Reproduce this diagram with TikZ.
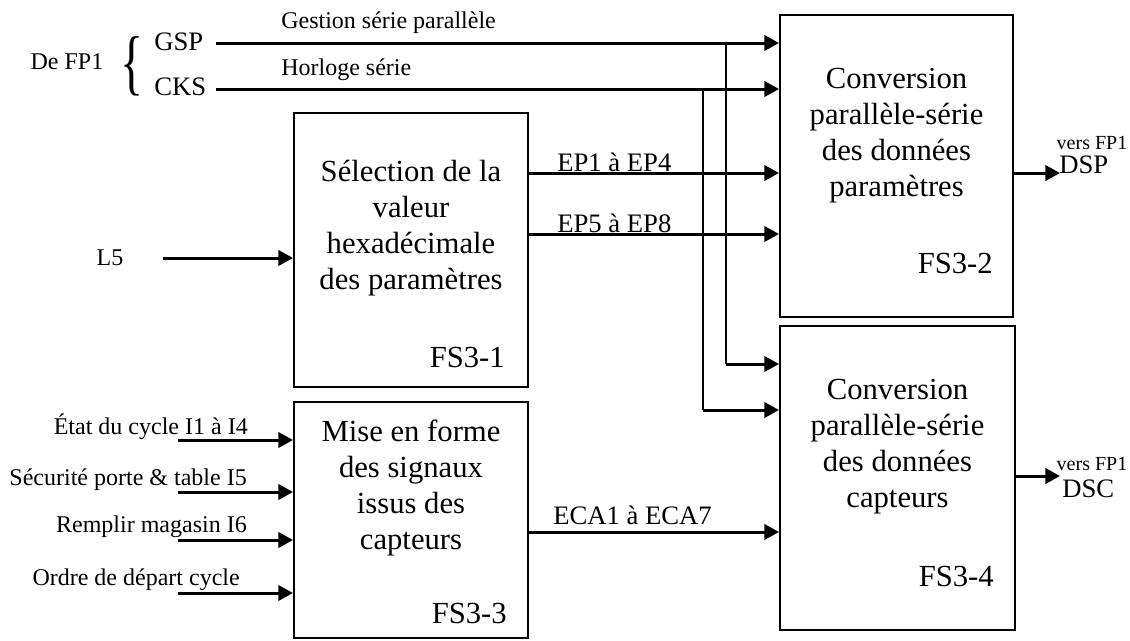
\documentclass[tikz,border=0pt]{standalone}
\usepackage{fontspec}
\setmainfont{Liberation Serif}
\usetikzlibrary{arrows.meta}

\begin{document}
\begin{tikzpicture}[x=0.75pt,y=-0.75pt,
  blk/.style={draw, line width=1.5pt, inner sep=0pt},
  blktext/.style={font=\fontsize{23}{27}\selectfont, align=center, inner sep=0pt},
  tag/.style={font=\fontsize{23}{27}\selectfont, inner sep=0pt},
  small/.style={font=\fontsize{18}{20}\selectfont, inner sep=0pt},
  mid/.style={font=\fontsize{20}{22}\selectfont, inner sep=0pt},
  tiny/.style={font=\fontsize{15}{17}\selectfont, inner sep=0pt},
  sig/.style={line width=2.25pt, -{Triangle[length=11pt,width=11.5pt]}},
  tap/.style={line width=1.5pt},
]
\useasboundingbox (0,0) rectangle (1130,640);

% function blocks
\node[blk, minimum width=175.5pt,  minimum height=205.5pt] (b1) at (411,250)   {};
\node[blk, minimum width=174.75pt, minimum height=226.5pt] (b2) at (896.5,166) {};
\node[blk, minimum width=175.5pt,  minimum height=177pt]   (b3) at (411,520)   {};
\node[blk, minimum width=176.25pt, minimum height=228pt]   (b4) at (897.5,478) {};

\node[blktext] (t1) at (411,228)   {Sélection de la\\valeur\\hexadécimale\\des paramètres};
\node[blktext] (t2) at (896.5,136) {Conversion\\parallèle-série\\des données\\paramètres};
\node[blktext] (t3) at (411,488)   {Mise en forme\\des signaux\\issus des\\capteurs};
\node[blktext] (t4) at (897.5,447) {Conversion\\parallèle-série\\des données\\capteurs};

\node[tag, anchor=east] (n1) at (505,357) {FS3-1};
\node[tag, anchor=east] (n2) at (993,263) {FS3-2};
\node[tag, anchor=east] (n3) at (507,613) {FS3-3};
\node[tag, anchor=east] (n4) at (994,576) {FS3-4};

% inputs from FP1
\node[small] (defp) at (67,62) {De FP1};
\node[inner sep=0pt] (brace) at (132,66)
  {\scalebox{1}[1.5]{\fontsize{36}{36}\selectfont\{}};
\node[mid, anchor=west] (gsp) at (154,42) {GSP};
\node[mid, anchor=west] (cks) at (154,87) {CKS};
\coordinate (gspS) at (216,43);
\coordinate (cksS) at (216,89);
\draw[sig] (gspS) -- (gspS -| b2.west);
\draw[sig] (cksS) -- (cksS -| b2.west);
\node[small, anchor=west] (lgsp) at (281,23) {Gestion série parallèle};
\node[small, anchor=west] (lcks) at (281,70) {Horloge série};

% taps towards the second converter
\coordinate (tapA) at (726,43);
\coordinate (tapB) at (703,89);
\coordinate (kneeA) at (726,364);
\coordinate (kneeB) at (703,410);
\draw[tap] (tapA) -- (kneeA);
\draw[tap] (tapB) -- (kneeB);
\draw[sig] (kneeA) -- (kneeA -| b4.west);
\draw[sig] (kneeB) -- (kneeB -| b4.west);

% parameter buses
\coordinate (ep1S) at (528,173);
\coordinate (ep5S) at (528,234);
\draw[sig] (ep1S) -- (ep1S -| b2.west);
\draw[sig] (ep5S) -- (ep5S -| b2.west);
\node[mid, anchor=west] (lep1) at (557,162) {EP1 à EP4};
\node[mid, anchor=west] (lep5) at (557,223) {EP5 à EP8};

% L5 input
\node[small] (l5) at (110,258) {L5};
\coordinate (l5S) at (163,258);
\draw[sig] (l5S) -- (l5S -| b1.west);

% sensor inputs
\node[small, anchor=east] (s1) at (248,427) {État du cycle I1 à I4};
\node[small, anchor=east] (s2) at (247,480) {Sécurité porte \& table I5};
\node[small, anchor=east] (s3) at (247,527) {Remplir magasin I6};
\node[small, anchor=east] (s4) at (240,580) {Ordre de départ cycle};
\coordinate (i1) at (178,440);
\coordinate (i2) at (178,492);
\coordinate (i3) at (178,540);
\coordinate (i4) at (178,593);
\foreach \c in {i1,i2,i3,i4} \draw[sig] (\c) -- (\c -| b3.west);

% sensor bus
\coordinate (ecaS) at (528,532);
\draw[sig] (ecaS) -- (ecaS -| b4.west);
\node[mid, anchor=west] (leca) at (553,515) {ECA1 à ECA7};

% serial outputs
\coordinate (dspE) at (1060,173);
\coordinate (dscE) at (1060,476);
\draw[sig] (dspE -| b2.east) -- (dspE);
\draw[sig] (dscE -| b4.east) -- (dscE);
\node[tiny] (v1) at (1092,143) {vers FP1};
\node[mid, anchor=west] (dsp) at (1059,165) {DSP};
\node[tiny] (v2) at (1092,464) {vers FP1};
\node[mid, anchor=west] (dsc) at (1062,489) {DSC};
\end{tikzpicture}
\end{document}
